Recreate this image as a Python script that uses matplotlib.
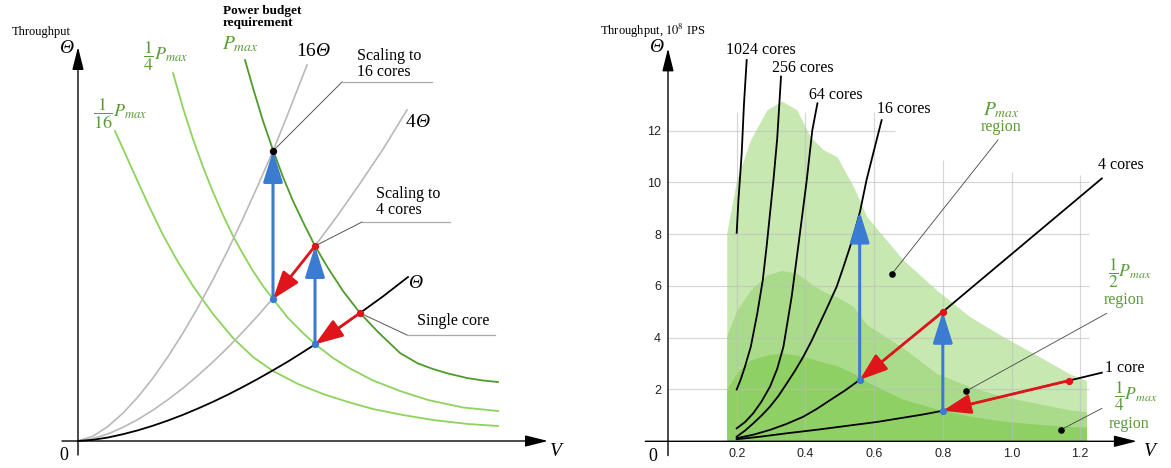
import matplotlib
matplotlib.use('Agg')
import matplotlib.pyplot as plt

plt.rcParams['font.family'] = ['Liberation Serif', 'DejaVu Serif']
plt.rcParams['mathtext.fontset'] = 'stix'

# ---------------- left panel (schematic) ----------------
# throughput curves: single core, 4 cores, 16 cores
v_1x = [0, 0.15, 0.3, 0.45, 0.6, 0.75, 0.9, 1.05, 1.2, 1.35, 1.5, 1.65, 1.8, 1.95, 2.1,
        2.25, 2.37, 2.6, 2.82, 3.05, 3.30]
th_1x = [0, 0.012, 0.035, 0.068, 0.107, 0.153, 0.205, 0.262, 0.325, 0.392, 0.464, 0.541,
         0.622, 0.707, 0.795, 0.889, 0.966, 1.12, 1.28, 1.446, 1.64]
v_4x = [0, 0.15, 0.3, 0.45, 0.6, 0.75, 0.9, 1.05, 1.2, 1.35, 1.5, 1.65, 1.8, 1.95, 2.1,
        2.25, 2.37, 2.6, 2.82, 3.05, 3.29]
th_4x = [0, 0.024, 0.071, 0.137, 0.216, 0.309, 0.414, 0.529, 0.656, 0.791, 0.936, 1.092,
         1.255, 1.427, 1.604, 1.794, 1.95, 2.26, 2.575, 2.918, 3.31]
v_16x = [0, 0.15, 0.3, 0.45, 0.6, 0.75, 0.9, 1.05, 1.2, 1.35, 1.5, 1.65, 1.8, 1.95, 2.1, 2.29]
th_16x = [0, 0.048, 0.146, 0.279, 0.441, 0.630, 0.844, 1.080, 1.337, 1.614, 1.910, 2.226,
          2.557, 2.90, 3.273, 3.76]

# constant power curves
v_pmax = [1.67, 1.75, 1.85, 1.95, 2.05, 2.15, 2.25, 2.37, 2.5, 2.65, 2.82, 3.0, 3.22, 3.4,
          3.55, 3.7, 3.89, 4.05, 4.2]
th_pmax = [3.81, 3.53, 3.20, 2.91, 2.64, 2.40, 2.19, 1.95, 1.73, 1.50, 1.28, 1.09, 0.88, 0.775,
           0.72, 0.675, 0.63, 0.605, 0.59]
v_p4 = [0.95, 1.05, 1.15, 1.25, 1.35, 1.45, 1.55, 1.65, 1.75, 1.85, 1.95, 2.1, 2.25, 2.37,
        2.55, 2.72, 2.95, 3.22, 3.5, 3.85, 4.2]
th_p4 = [3.68, 3.33, 3.02, 2.74, 2.49, 2.26, 2.05, 1.87, 1.70, 1.55, 1.42, 1.23, 1.08, 0.97,
         0.83, 0.725, 0.605, 0.50, 0.41, 0.335, 0.30]
v_p16 = [0.37, 0.55, 0.7, 0.85, 1.0, 1.15, 1.35, 1.55, 1.75, 1.95, 2.2, 2.45, 2.7, 2.95,
         3.25, 3.55, 3.9, 4.2]
th_p16 = [3.10, 2.70, 2.37, 2.06, 1.79, 1.55, 1.27, 1.03, 0.84, 0.70, 0.57, 0.47, 0.39, 0.32,
          0.26, 0.21, 0.17, 0.15]

# operating points
left_blue = [(1.95, 1.42), (2.37, 0.966)]
left_red = [(2.37, 1.95), (2.82, 1.28)]
left_black = [(1.95, 2.90)]

# ---------------- right panel (data) ----------------
v_region = [0.171, 0.20, 0.24, 0.288, 0.331, 0.375, 0.414, 0.453, 0.492, 0.54, 0.579,
            0.685, 0.782, 0.879, 0.976, 1.073, 1.17, 1.218]
th_region_pmax = [8.05, 10.1, 11.63, 12.8, 13.14, 12.8, 11.76, 11.25, 10.99, 9.83, 8.67,
                  7.0, 5.84, 4.81, 4.04, 3.33, 2.6, 2.35]
th_region_half = [4.08, 5.05, 5.84, 6.42, 6.6, 6.49, 6.1, 5.78, 5.58, 5.2, 4.5,
                  3.6, 2.62, 2.11, 1.72, 1.47, 1.21, 1.15]
th_region_quarter = [2.0, 2.63, 3.14, 3.33, 3.41, 3.33, 3.2, 3.05, 2.92, 2.63, 2.3,
                     1.62, 1.25, 0.97, 0.78, 0.66, 0.57, 0.55]

v_c1024 = [0.2, 0.205, 0.2145, 0.2213, 0.2291]
th_c1024 = [8.05, 9.3, 11.1, 13.05, 14.72]
v_c256 = [0.2, 0.212, 0.224, 0.241, 0.26, 0.276, 0.287, 0.297, 0.307, 0.318, 0.329]
th_c256 = [2.0, 2.4, 2.88, 3.65, 4.94, 6.23, 7.51, 8.8, 10.09, 11.7, 14.08]
v_c64 = [0.2, 0.224, 0.248, 0.272, 0.297, 0.318, 0.336, 0.36, 0.379, 0.394, 0.404, 0.42, 0.435]
th_c64 = [0.5, 0.74, 1.08, 1.53, 2.11, 2.8, 3.65, 5.58, 7.51, 9.06, 10.09, 12.0, 13.05]
v_c16 = [0.2, 0.224, 0.248, 0.272, 0.297, 0.322, 0.346, 0.37, 0.394, 0.418, 0.442, 0.466,
         0.491, 0.51, 0.53, 0.545, 0.559, 0.578, 0.6, 0.622]
th_c16 = [0.18, 0.41, 0.69, 0.99, 1.34, 1.76, 2.24, 2.73, 3.27, 3.88, 4.56, 5.24, 5.97, 6.7,
          7.51, 8.18, 8.87, 10.09, 11.25, 12.4]
v_c4 = [0.2, 0.25, 0.297, 0.345, 0.394, 0.433, 0.472, 0.515, 0.558, 0.8, 1.263]
th_c4 = [0.12, 0.26, 0.44, 0.67, 0.95, 1.25, 1.59, 1.96, 2.37, 5.0, 10.15]
v_c1 = [0.2, 0.27, 0.346, 0.442, 0.54, 0.61, 0.675, 0.74, 0.8, 1.166, 1.263]
th_c1 = [0.08, 0.18, 0.31, 0.46, 0.63, 0.75, 0.89, 1.03, 1.18, 2.34, 2.65]

core_labels = ['1024 cores', '256 cores', '64 cores', '16 cores', '4 cores', '1 core']
core_label_pos = [(0.27, 15.11), (0.393, 14.41), (0.489, 13.37), (0.687, 12.83),
                  (1.319, 10.67), (1.33, 2.83)]

right_blue = [(0.558, 2.37), (0.8, 1.18)]
right_red = [(0.8, 5.0), (1.166, 2.34)]
region_dots = [(0.651, 6.45), (0.868, 1.94), (1.143, 0.44)]

xticks_r = [0.2, 0.4, 0.6, 0.8, 1.0, 1.2]
yticks_r = [2, 4, 6, 8, 10, 12]

GREEN_DARK = '#4f9a2b'
GREEN_LIGHT = '#8dd35c'
LABEL_GREEN = '#5a9b36'
GRAY = '#b9b9b9'
BLUE = '#3b7bd2'
RED = '#e0141b'


def arrow(ax, start, end, color, lw, hl, hw, z=6):
    ax.annotate('', xy=end, xytext=start, zorder=z,
                arrowprops=dict(arrowstyle='-|>,head_length=%s,head_width=%s' % (hl, hw),
                                color=color, lw=lw, shrinkA=0, shrinkB=0,
                                mutation_scale=10))


def theta_label(ax, x, y, prefix, size=14):
    # upright number followed by an italic Theta
    if prefix:
        ax.text(x, y, prefix, fontsize=size, ha='right', va='center')
    ax.text(x, y, 'Θ', fontsize=size, style='italic', ha='left' if prefix else 'center',
            va='center')


fig = plt.figure(figsize=(11.71, 4.68), dpi=100)

# ===================== left =====================
ax = fig.add_axes([0, 0, 585 / 1171, 1])
ax.set_xlim(-0.78, 5.07)
ax.set_ylim(-0.27, 4.41)
ax.axis('off')

arrow(ax, (-0.16, 0), (4.70, 0), 'black', 1.0, 1.4, 0.35)
arrow(ax, (0, -0.14), (0, 3.94), 'black', 1.0, 1.4, 0.35)

ax.plot(v_p16, th_p16, color=GREEN_LIGHT, lw=1.3, zorder=2)
ax.plot(v_p4, th_p4, color=GREEN_LIGHT, lw=1.3, zorder=2)
ax.plot(v_pmax, th_pmax, color=GREEN_DARK, lw=1.3, zorder=2)
ax.plot(v_16x, th_16x, color=GRAY, lw=1.2, zorder=2)
ax.plot(v_4x, th_4x, color=GRAY, lw=1.2, zorder=2)
ax.plot(v_1x, th_1x, color='black', lw=1.3, zorder=3)

# leader lines
for pts in ([(1.95, 2.90), (2.64, 3.59), (3.54, 3.59)],
            [(2.37, 1.95), (2.84, 2.19), (3.72, 2.19)],
            [(2.82, 1.28), (3.29, 1.06), (4.17, 1.06)]):
    ax.plot([pts[0][0], pts[1][0]], [pts[0][1], pts[1][1]], color='#555555', lw=0.7, zorder=2)
    ax.plot([pts[1][0], pts[2][0]], [pts[1][1], pts[2][1]], color='#aaaaaa', lw=0.9, zorder=2)

arrow(ax, left_blue[0], left_black[0], BLUE, 2.2, 1.9, 0.6)
arrow(ax, left_blue[1], left_red[0], BLUE, 2.2, 1.9, 0.6)
arrow(ax, left_red[0], left_blue[0], RED, 2.0, 1.7, 0.6)
arrow(ax, left_red[1], left_blue[1], RED, 2.0, 1.7, 0.6)

ax.scatter(*zip(*left_blue), s=18, color=BLUE, zorder=7)
ax.scatter(*zip(*left_red), s=18, color=RED, zorder=7)
ax.scatter(*zip(*left_black), s=18, color='black', zorder=7)

ax.text(-0.66, 4.09, 'Throughput', fontsize=9, ha='left', va='center')
theta_label(ax, -0.12, 3.92, '')
ax.text(-0.14, -0.14, '0', fontsize=13, ha='center', va='center')
ax.text(4.78, -0.11, 'V', fontsize=14, style='italic', ha='center', va='center')
ax.text(1.45, 4.36, 'Power budget\nrequirement', fontsize=9.5, fontweight='bold',
        ha='left', va='top', linespacing=1.05)
ax.text(1.62, 3.97, r'$P_{max}$', fontsize=14, color=LABEL_GREEN, ha='center', va='center')
ax.text(0.88, 3.85, r'$\dfrac{1}{4}P_{max}$', fontsize=13, color=LABEL_GREEN, ha='center', va='center')
ax.text(0.42, 3.27, r'$\dfrac{1}{16}P_{max}$', fontsize=13, color=LABEL_GREEN, ha='center', va='center')
theta_label(ax, 2.375, 3.89, '16')
theta_label(ax, 3.375, 3.18, '4')
theta_label(ax, 3.37, 1.57, '')
ax.text(2.79, 3.77, 'Scaling to\n16 cores', fontsize=11.5, ha='left', va='center', linespacing=1.0)
ax.text(2.98, 2.39, 'Scaling to\n4 cores', fontsize=11.5, ha='left', va='center', linespacing=1.0)
ax.text(3.39, 1.20, 'Single core', fontsize=11.5, ha='left', va='center')

# ===================== right =====================
ax2 = fig.add_axes([585 / 1171, 0, 586 / 1171, 1])
ax2.set_xlim(-0.2416, 1.4643)
ax2.set_ylim(-1.031, 17.039)
for s in ax2.spines.values():
    s.set_color('none')
ax2.spines['left'].set_position(('data', 0))
ax2.spines['bottom'].set_position(('data', 0))
ax2.set_xticks(xticks_r)
ax2.set_xticklabels(['%.1f' % t for t in xticks_r])
ax2.set_yticks(yticks_r)
ax2.tick_params(length=0, labelsize=9, labelcolor='#222222')
ax2.tick_params(axis='x', pad=5)
ax2.tick_params(axis='y', pad=5)
for lab in ax2.get_xticklabels() + ax2.get_yticklabels():
    lab.set_fontfamily('Liberation Sans')
ax2.patch.set_alpha(0)

ax2.fill_between(v_region, 0, th_region_pmax, color='#c7e8b1', lw=0, zorder=1)
ax2.fill_between(v_region, 0, th_region_half, color='#a9db8b', lw=0, zorder=1)
ax2.fill_between(v_region, 0, th_region_quarter, color='#8fd064', lw=0, zorder=1)

grid_h_top = [1.225, 1.225, 1.225, 1.225, 1.225, 0.66]
grid_v_top = [12.7, 12.7, 12.7, 10.85, 10.4, 10.3]
ax2.hlines(yticks_r, 0, grid_h_top, color='#bdbdbd', lw=0.9, alpha=0.6, zorder=2)
ax2.vlines(xticks_r, 0, grid_v_top, color='#bdbdbd', lw=0.9, alpha=0.6, zorder=2)

arrow(ax2, (-0.066, 0), (1.365, 0), 'black', 1.0, 1.4, 0.35)
arrow(ax2, (0, -0.55), (0, 15.17), 'black', 1.0, 1.4, 0.35)

for vv, tt in ((v_c1024, th_c1024), (v_c256, th_c256), (v_c64, th_c64),
               (v_c16, th_c16), (v_c4, th_c4), (v_c1, th_c1)):
    ax2.plot(vv, tt, color='black', lw=1.3, zorder=3)

for lab, (x, y) in zip(core_labels, core_label_pos):
    ax2.text(x, y, lab, fontsize=11.5, ha='center', va='center')

# region leaders
for (x0, y0), (x1, y1) in zip(region_dots, [(0.961, 11.64), (1.277, 4.94), (1.263, 1.27)]):
    ax2.plot([x0, x1], [y0, y1], color='#444444', lw=0.6, zorder=3)
ax2.scatter(*zip(*region_dots), s=14, color='black', zorder=7)

arrow(ax2, right_blue[0], (0.558, 8.87), BLUE, 2.2, 1.9, 0.6)
arrow(ax2, right_blue[1], right_red[0], BLUE, 2.2, 1.9, 0.6)
arrow(ax2, right_red[0], right_blue[0], RED, 2.0, 1.7, 0.6)
arrow(ax2, right_red[1], right_blue[1], RED, 2.0, 1.7, 0.6)
ax2.scatter(*zip(*right_blue), s=18, color=BLUE, zorder=7)
ax2.scatter(*zip(*right_red), s=18, color=RED, zorder=7)

ax2.text(-0.198, 15.84, r'Throughput, $10^8$ IPS', fontsize=9, ha='left', va='center')
theta_label(ax2, -0.035, 15.19, '')
ax2.text(-0.044, -0.57, '0', fontsize=13, ha='center', va='center')
ax2.text(1.403, -0.41, 'V', fontsize=14, style='italic', ha='center', va='center')

ax2.text(0.969, 12.79, r'$P_{max}$', fontsize=14, color=LABEL_GREEN, ha='center', va='center')
ax2.text(0.969, 12.12, 'region', fontsize=11.5, color=LABEL_GREEN, ha='center', va='center')
ax2.text(1.345, 6.5, r'$\dfrac{1}{2}P_{max}$', fontsize=12.5, color=LABEL_GREEN, ha='center', va='center')
ax2.text(1.327, 5.45, 'region', fontsize=11.5, color=LABEL_GREEN, ha='center', va='center')
ax2.text(1.362, 1.72, r'$\dfrac{1}{4}P_{max}$', fontsize=12.5, color=LABEL_GREEN, ha='center', va='center')
ax2.text(1.343, 0.66, 'region', fontsize=11.5, color=LABEL_GREEN, ha='center', va='center')

fig.savefig('out.png', dpi=100)
